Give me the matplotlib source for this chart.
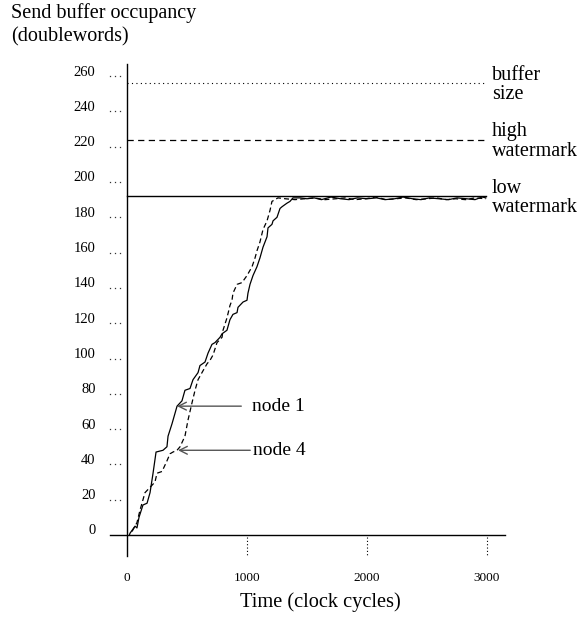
import matplotlib
matplotlib.use("Agg")
import matplotlib.pyplot as plt

plt.rcParams['font.family'] = ['Liberation Serif', 'DejaVu Serif']

# ---- data ----
y_ticks = [0, 20, 40, 60, 80, 100, 120, 140, 160, 180, 200, 220, 240, 260]
x_ticks = [0, 1000, 2000, 3000]
buffer_size = 256
high_watermark = 224
low_watermark = 192

node1_t = [20, 25, 67, 83, 100, 133, 167, 192, 217, 242, 300, 333, 342, 375, 417, 458, 483,
           525, 550, 592, 608, 650, 675, 708, 733, 775, 792, 833, 858, 883, 917, 925, 967,
           1000, 1008, 1025, 1050, 1083, 1108, 1133, 1167, 1175, 1208, 1217, 1250, 1275,
           1292, 1333, 1358, 1383, 1442, 1500, 1560, 1620, 1700, 1780, 1850, 1920, 2000,
           2080, 2150, 2230, 2300, 2380, 2450, 2520, 2600, 2680, 2750, 2830, 2900, 2960, 2990]
node1_v = [0, 1, 5, 4, 10, 17, 18, 24, 35, 47, 48, 50, 56, 63, 73, 76, 82,
           83, 88, 92, 96, 98, 103, 108, 109, 112, 114, 116, 122, 125, 126, 129, 132,
           133, 137, 142, 147, 152, 157, 163, 169, 174, 176, 178, 180, 185,
           186, 188, 189, 191, 191, 190.5, 191, 190, 191.5, 190.5, 190, 191, 190.5,
           191, 190, 190.5, 191.5, 190.5, 190, 191, 190.5, 190, 191, 190.5, 190, 191.5, 191]

node4_t = [42, 83, 108, 150, 192, 233, 250, 292, 333, 358, 383, 417, 442, 483, 508, 542,
           567, 592, 633, 667, 692, 717, 750, 792, 800, 833, 858, 875, 883, 917, 958,
           1000, 1042, 1067, 1083, 1108, 1133, 1167, 1192, 1208, 1233, 1258, 1320, 1400,
           1480, 1560, 1650, 1740, 1820, 1900, 1990, 2070, 2160, 2240, 2320, 2410, 2500,
           2580, 2660, 2740, 2820, 2900, 2990]
node4_v = [2, 7, 14, 24, 27, 30, 35, 36, 42, 46, 47, 48, 50, 56, 65, 75,
           82, 88, 93, 97, 99, 102, 109, 112, 116, 123, 130, 133, 137, 142, 143,
           147, 152, 157, 161, 166, 173, 178, 184, 189, 190, 191, 190.5, 190,
           190.5, 191, 190, 190.5, 191, 190, 190.5, 191.5, 190, 190.5, 191, 190, 190.5,
           191, 190, 190.5, 190, 191, 190.5]

W, H = 583, 619
fig = plt.figure(figsize=(W / 100, H / 100), dpi=100)

# pixel mapping: t=0 -> x=127, t=3000 -> x=487 ; v=0 -> y=535, v=1 -> 1.765 px
sx = 0.12
sy = 1.765
xlim = (-150, 3200)
ylim = (-12, 267)
left_px = 127 + sx * xlim[0]
right_px = 127 + sx * xlim[1]
bot_px = 535 - sy * ylim[0]
top_px = 535 - sy * ylim[1]
ax = fig.add_axes([left_px / W, 1 - bot_px / H, (right_px - left_px) / W, (bot_px - top_px) / H])
ax.set_xlim(*xlim)
ax.set_ylim(*ylim)
ax.axis('off')

k = 'black'
# axes lines
ax.plot([-142, 3150], [0, 0], color=k, lw=1.0, clip_on=False)
ax.plot([0, 0], [-12, 267], color=k, lw=1.0, clip_on=False)

# y ticks (three dots) and labels
for v in y_ticks:
    if v > 0:
        ax.plot([-142, -100, -58], [v, v, v], ls='none', marker='s', ms=0.9,
                color='#333333', mec='none', clip_on=False)
    ax.text(-262, v + 2.3, str(v), ha='right', va='center', fontsize=10.5)

# x ticks
for t in x_ticks[1:]:
    ax.plot([t, t], [-1, -12], color=k, lw=0.8, linestyle=(0, (1, 2)), clip_on=False)
for t in x_ticks:
    ax.text(t, -24.5, str(t), ha='center', va='center', fontsize=9.5)

# reference lines
ax.plot([0, 2990], [buffer_size, buffer_size], color=k, lw=0.8, linestyle=(0, (1, 3)))
ax.plot([0, 2990], [high_watermark, high_watermark], color=k, lw=0.9, linestyle=(0, (5, 3.5)))
ax.plot([0, 2990], [low_watermark, low_watermark], color=k, lw=1.0)

for val, lab in [(buffer_size, 'buffer\nsize'), (high_watermark, 'high\nwatermark'),
                 (low_watermark, 'low\nwatermark')]:
    ax.text(3042, val - 1, lab, ha='left', va='center', fontsize=14.5, linespacing=1.05)

# curves
ax.plot(node1_t, node1_v, color=k, lw=0.9)
ax.plot(node4_t, node4_v, color=k, lw=0.9, linestyle=(0, (4, 2.5)))

# annotations
ax.annotate('node 1', xy=(417, 73), xytext=(1045, 73), ha='left', va='center', fontsize=14,
            arrowprops=dict(arrowstyle='->', color='#555555', lw=1.0, shrinkA=6, shrinkB=0))
ax.annotate('node 4', xy=(425, 48), xytext=(1050, 48), ha='left', va='center', fontsize=14,
            arrowprops=dict(arrowstyle='->', color='#555555', lw=1.0, shrinkA=0, shrinkB=0))

fig.text(11 / W, 1 - 13 / H, 'Send buffer occupancy', ha='left', va='center', fontsize=14.5)
fig.text(11 / W, 1 - 37 / H, '(doublewords)', ha='left', va='center', fontsize=14.5)
fig.text(320 / W, 1 - 602 / H, 'Time (clock cycles)', ha='center', va='center', fontsize=14.7)

fig.savefig('out.png', dpi=100)
